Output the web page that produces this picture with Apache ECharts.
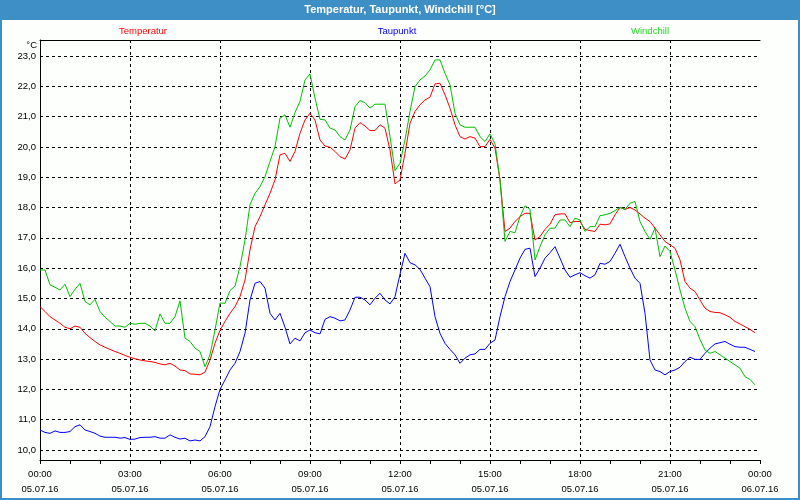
<!DOCTYPE html>
<html><head><meta charset="utf-8">
<script src="https://cdn.jsdelivr.net/npm/echarts@6/dist/echarts.min.js"></script>
<style>html,body{margin:0;padding:0;background:#fff}#c{width:800px;height:500px}</style>
</head><body><div id="c"></div><script>
const chartTitle = 'Temperatur, Taupunkt, Windchill [°C]';
const seriesNames = ['Temperatur', 'Taupunkt', 'Windchill'];
const unitLabel = '°C';
// 10-minute samples from 00:00 to 23:50
const temperatur = [
 14.73,14.57,14.40,14.29,14.18,14.05,14.00,14.09,14.05,13.85,13.71,13.58,13.47,13.39,13.32,13.25,13.19,13.12,
 13.06,13.01,12.97,12.94,12.92,12.89,12.84,12.81,12.86,12.77,12.64,12.62,12.51,12.50,12.48,12.57,12.97,13.52,
 13.95,14.24,14.51,14.73,15.06,15.61,16.60,17.37,17.70,18.09,18.47,18.91,19.74,19.79,19.52,19.85,20.45,20.89,
 21.11,20.89,20.23,20.03,19.99,19.85,19.68,19.60,19.90,20.62,20.80,20.69,20.54,20.54,20.73,20.62,19.90,18.78,
 18.91,19.79,20.78,21.17,21.39,21.55,21.64,22.08,22.10,21.72,21.28,20.73,20.34,20.26,20.34,20.29,20.01,20.01,
 20.25,19.96,18.91,17.21,17.32,17.54,17.70,17.81,17.81,16.93,17.04,17.28,17.45,17.76,17.79,17.79,17.50,17.54,
 17.54,17.28,17.24,17.21,17.45,17.43,17.46,17.76,18.00,17.94,18.00,17.92,17.79,17.65,17.54,17.32,17.10,16.88,
 16.77,16.66,16.27,15.56,15.34,15.23,14.95,14.68,14.57,14.54,14.53,14.46,14.38,14.24,14.16,14.07,13.98,13.87
];
const taupunkt = [
 10.66,10.58,10.55,10.63,10.58,10.58,10.61,10.77,10.83,10.66,10.61,10.55,10.46,10.42,10.42,10.42,10.39,10.41,
 10.35,10.36,10.41,10.42,10.42,10.44,10.39,10.39,10.50,10.42,10.36,10.39,10.30,10.33,10.30,10.44,10.77,11.43,
 12.00,12.31,12.64,12.86,13.25,13.85,14.95,15.50,15.56,15.34,14.51,14.29,14.51,14.05,13.50,13.69,13.60,13.87,
 13.96,13.87,13.83,14.31,14.40,14.35,14.26,14.29,14.62,15.04,15.04,14.95,14.79,15.01,15.17,14.95,14.82,15.06,
 15.80,16.49,16.18,16.11,15.96,15.67,15.39,14.40,13.85,13.52,13.32,13.14,12.86,13.03,13.14,13.17,13.32,13.32,
 13.52,13.63,14.40,15.06,15.56,15.94,16.33,16.62,16.66,15.72,16.00,16.33,16.51,16.71,16.33,15.94,15.70,15.78,
 15.85,15.75,15.67,15.78,16.16,16.13,16.22,16.49,16.79,16.38,16.00,15.67,15.50,14.51,12.97,12.64,12.59,12.48,
 12.59,12.64,12.73,12.92,13.06,12.99,12.99,13.19,13.36,13.50,13.54,13.58,13.49,13.41,13.39,13.39,13.32,13.25
];
const windchill = [
 15.94,15.94,15.45,15.37,15.28,15.47,15.06,15.30,15.50,14.90,14.79,14.97,14.57,14.38,14.24,14.09,14.09,14.05,
 14.18,14.15,14.18,14.18,14.09,13.93,14.49,14.18,14.18,14.40,14.92,13.69,13.58,13.36,13.25,12.75,13.14,13.96,
 14.85,14.84,15.26,15.41,16.05,16.93,18.09,18.47,18.69,19.02,19.52,20.01,20.95,21.06,20.65,21.13,21.50,22.21,
 22.41,21.61,20.91,20.89,20.62,20.56,20.34,20.23,20.56,21.33,21.53,21.46,21.28,21.41,21.41,21.41,20.34,19.22,
 19.46,20.23,21.17,21.99,22.21,22.34,22.54,22.87,22.87,22.43,22.05,21.11,20.73,20.65,20.65,20.65,20.34,20.18,
 20.43,20.10,18.91,16.88,17.21,17.17,17.70,18.06,17.94,16.27,16.71,17.10,17.32,17.32,17.59,17.59,17.37,17.65,
 17.59,17.21,17.37,17.37,17.73,17.76,17.81,17.90,18.01,17.94,18.14,18.20,17.54,17.21,16.95,17.32,16.38,16.73,
 16.55,15.94,15.28,14.68,14.24,14.07,13.65,13.30,13.19,13.25,13.14,13.03,12.92,12.81,12.70,12.42,12.33,12.15
];
const sampleMinutes = 10;
const xTickTimes = ['00:00','03:00','06:00','09:00','12:00','15:00','18:00','21:00','00:00'];
const xTickDates = ['05.07.16','05.07.16','05.07.16','05.07.16','05.07.16','05.07.16','05.07.16','05.07.16','06.07.16'];
const yMin = 10, yMax = 23, yStep = 1;
const xMax = 1440, xStep = 180;

const FONT = 'Liberation Sans, Arial, sans-serif';
const BLUE = '#3d8fc6';
const COLORS = ['#ff0000', '#0000ff', '#00c000'];

const toPairs = arr => arr.map((v, i) => [i * sampleMinutes, v]);

const chart = echarts.init(document.getElementById('c'), null, {renderer: 'canvas'});
chart.setOption({
  animation: false,
  backgroundColor: '#fdfffd',
  textStyle: {fontFamily: FONT},
  grid: [
    {left: 40, right: 40, top: 40, bottom: 40, containLabel: false},
    {left: 40, right: 40, top: 56, bottom: 50, containLabel: false}
  ],
  xAxis: [
    {
      gridIndex: 0, type: 'value', min: 0, max: xMax, interval: xStep,
      axisLine: {show: true, lineStyle: {color: '#000', width: 1}},
      axisTick: {show: true, length: 4, lineStyle: {color: '#000'}},
      minorTick: {show: true, splitNumber: 3, length: 4, lineStyle: {color: '#000'}},
      splitLine: {show: true, showMinLine: false, showMaxLine: false, lineStyle: {color: '#000', type: [3, 3], width: 1}},
      axisLabel: {
        show: true, margin: 7, color: '#000', fontSize: 9.5, fontFamily: FONT, lineHeight: 15,
        showMinLabel: true, showMaxLabel: true, hideOverlap: false,
        formatter: v => { const i = Math.round(v / xStep); return xTickTimes[i] + '\n' + xTickDates[i]; }
      }
    },
    {
      gridIndex: 0, type: 'value', position: 'top', min: 0, max: xMax,
      axisLine: {show: true, lineStyle: {color: '#000', width: 1}},
      axisTick: {show: false}, axisLabel: {show: false}, splitLine: {show: false}
    },
    {
      gridIndex: 1, type: 'value', min: 0, max: xMax, show: false
    }
  ],
  yAxis: [
    {
      gridIndex: 0, type: 'value', min: 0, max: 1,
      axisLine: {show: true, lineStyle: {color: '#000', width: 1}},
      axisTick: {show: false}, axisLabel: {show: false}, splitLine: {show: false}
    },
    {
      gridIndex: 1, type: 'value', min: yMin, max: yMax, interval: yStep,
      axisLine: {show: false}, axisTick: {show: false},
      splitLine: {show: true, lineStyle: {color: '#000', type: [3, 3], width: 1}},
      axisLabel: {
        show: true, margin: 4, color: '#000', fontSize: 9.5, fontFamily: FONT,
        formatter: v => v.toFixed(1).replace('.', ',')
      }
    }
  ],
  series: [
    {name: seriesNames[0], data: toPairs(temperatur), color: COLORS[0]},
    {name: seriesNames[1], data: toPairs(taupunkt), color: COLORS[1]},
    {name: seriesNames[2], data: toPairs(windchill), color: COLORS[2]}
  ].map(s => Object.assign({
    type: 'line', xAxisIndex: 2, yAxisIndex: 1, showSymbol: false, symbol: 'none',
    lineStyle: {width: 1, color: s.color}, clip: true
  }, s)),
  graphic: [
    {type: 'rect', shape: {x: 0, y: 0, width: 800, height: 20}, style: {fill: BLUE}, z: 10},
    {type: 'text', x: 400, y: 10, style: {text: chartTitle, fill: '#fff', font: 'bold 11px ' + FONT, align: 'center', verticalAlign: 'middle'}, z: 11},
    {type: 'rect', shape: {x: 1, y: 1, width: 798, height: 498}, style: {fill: 'none', stroke: BLUE, lineWidth: 2}, z: 12},
    {type: 'text', x: 143, y: 31, style: {text: seriesNames[0], fill: COLORS[0], font: '9.5px ' + FONT, align: 'center', verticalAlign: 'middle'}, z: 11},
    {type: 'text', x: 397, y: 31, style: {text: seriesNames[1], fill: COLORS[1], font: '9.5px ' + FONT, align: 'center', verticalAlign: 'middle'}, z: 11},
    {type: 'text', x: 650, y: 31, style: {text: seriesNames[2], fill: '#22d822', font: '9.5px ' + FONT, align: 'center', verticalAlign: 'middle'}, z: 11},
    {type: 'text', x: 37, y: 45, style: {text: unitLabel, fill: '#000', font: '9.5px ' + FONT, align: 'right', verticalAlign: 'middle'}, z: 11}
  ]
});
</script></body></html>
